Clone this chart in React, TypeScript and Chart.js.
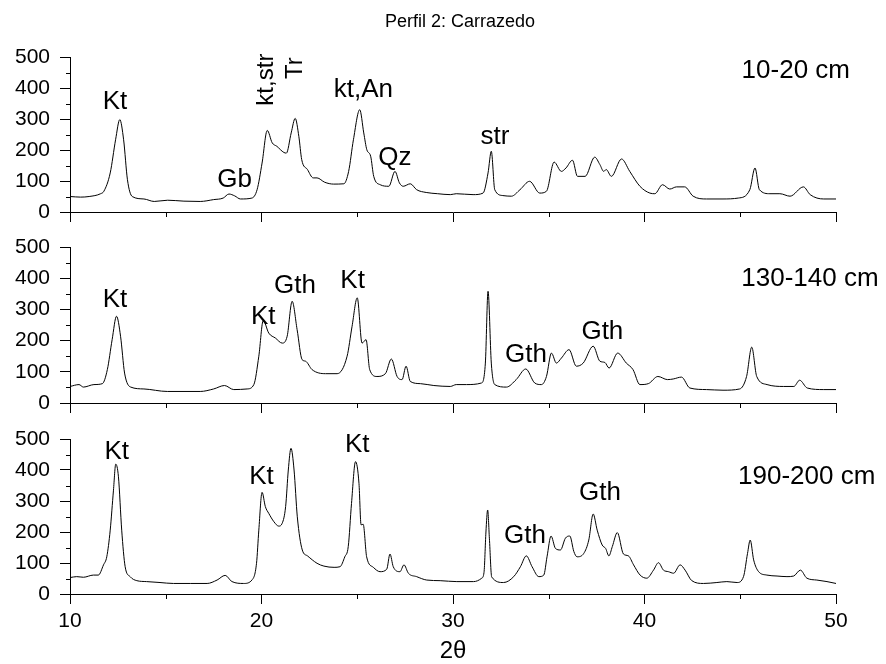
import React, { useEffect, useRef } from 'react';
import { Chart, registerables } from 'chart.js';

Chart.register(...registerables);

const FONT = "'Liberation Sans', Arial, Helvetica, sans-serif";
const TITLE = 'Perfil 2: Carrazedo';

// ---- 10-20 cm ----
const angles10_20 = [10.0, 10.55, 11.0, 11.6, 11.77, 12.1, 12.38, 12.6, 12.8, 13.0, 13.25, 13.86, 14.4, 15.1, 15.95, 16.8, 17.5, 18.0, 18.3, 18.6, 18.9, 19.5, 19.77, 20.03, 20.3, 20.56, 20.8, 21.17, 21.3, 21.55, 21.76, 21.95, 22.1, 22.4, 22.7, 22.9, 23.3, 23.77, 24.3, 24.55, 24.8, 25.13, 25.34, 25.5, 25.7, 25.86, 26.2, 26.65, 26.97, 27.2, 27.4, 27.77, 28.1, 28.6, 29.2, 29.86, 30.17, 31.05, 31.57, 31.83, 32.0, 32.18, 32.6, 33.05, 33.5, 34.0, 34.53, 34.88, 35.28, 35.66, 35.9, 36.24, 36.5, 36.9, 37.4, 37.67, 37.87, 38.0, 38.27, 38.8, 39.23, 39.76, 40.28, 40.54, 40.94, 41.32, 41.67, 42.1, 42.54, 43.24, 44.1, 44.9, 45.5, 45.77, 46.0, 46.55, 47.07, 47.6, 48.3, 48.65, 49.36, 50.0];
const counts10_20 = [50, 48, 50, 59, 67, 126, 233, 298, 233, 104, 50, 42, 34, 38, 35, 34, 40, 45, 58, 52, 42, 45, 72, 158, 263, 223, 212, 192, 190, 255, 302, 244, 169, 137, 110, 110, 96, 90, 91, 131, 233, 330, 255, 201, 180, 115, 88, 83, 131, 94, 83, 91, 72, 63, 59, 56, 59, 56, 61, 126, 196, 72, 53, 51, 72, 99, 61, 67, 161, 131, 142, 167, 115, 115, 177, 153, 131, 137, 115, 171, 131, 83, 61, 59, 88, 74, 81, 81, 51, 42, 42, 45, 72, 142, 72, 59, 59, 51, 81, 56, 42, 42];
const peaks10_20 = ['Kt', 'Gb', 'kt,str', 'Tr', 'kt,An', 'Qz', 'str'];
const peakAt10_20 = [12.35, 18.6, 20.27, 21.75, 25.32, 26.97, 32.19];
const peakH10_20 = [357, 104, 427, 464, 394, 174, 244];
const peakRot10_20 = [0, 0, -90, -90, 0, 0, 0];

// ---- 130-140 cm ----
const angles130_140 = [10.0, 10.47, 10.7, 11.25, 11.69, 11.95, 12.2, 12.43, 12.64, 12.85, 13.17, 13.86, 15.08, 16.8, 17.5, 18.07, 18.55, 19.25, 19.6, 19.86, 20.09, 20.38, 20.73, 21.08, 21.34, 21.6, 21.86, 22.12, 22.3, 22.64, 23.34, 23.95, 24.47, 24.73, 25.0, 25.25, 25.46, 25.65, 26.03, 26.47, 26.78, 27.08, 27.34, 27.55, 27.77, 28.3, 29.0, 29.86, 30.17, 30.7, 31.48, 31.69, 31.83, 32.0, 32.18, 32.79, 33.3, 33.8, 34.27, 34.62, 34.88, 35.14, 35.4, 35.66, 36.06, 36.44, 36.8, 37.32, 37.67, 37.93, 38.15, 38.6, 39.05, 39.4, 39.76, 40.2, 40.7, 41.2, 41.5, 41.93, 42.37, 43.24, 44.1, 44.97, 45.33, 45.6, 45.86, 46.4, 47.25, 47.8, 48.1, 48.5, 49.36, 50.0];
const counts130_140 = [53, 59, 51, 59, 62, 107, 203, 278, 214, 96, 51, 45, 37, 37, 45, 56, 43, 45, 59, 150, 264, 224, 208, 192, 214, 326, 235, 139, 134, 107, 94, 94, 150, 246, 337, 192, 203, 107, 85, 94, 141, 85, 75, 118, 69, 62, 56, 53, 59, 59, 64, 128, 358, 128, 59, 51, 75, 109, 64, 59, 85, 160, 128, 144, 171, 118, 128, 182, 134, 130, 112, 160, 128, 107, 59, 62, 85, 75, 77, 83, 48, 43, 41, 45, 85, 179, 85, 59, 53, 53, 73, 48, 43, 43];
const peaks130_140 = ['Kt', 'Kt', 'Gth', 'Kt', 'Gth', 'Gth'];
const peakAt130_140 = [12.35, 20.09, 21.75, 24.76, 33.81, 37.8];
const peakH130_140 = [331, 276, 376, 390, 155, 229];
const peakRot130_140 = [0, 0, 0, 0, 0, 0];

// ---- 190-200 cm ----
const angles190_200 = [10.0, 10.35, 10.7, 11.22, 11.48, 11.75, 11.92, 12.1, 12.27, 12.39, 12.53, 12.7, 12.88, 13.14, 13.49, 14.0, 14.7, 15.4, 16.28, 17.16, 17.68, 18.1, 18.46, 19.07, 19.5, 19.74, 19.86, 20.03, 20.2, 20.38, 20.65, 20.9, 21.08, 21.26, 21.4, 21.54, 21.7, 21.87, 22.13, 22.4, 22.9, 23.26, 23.79, 24.1, 24.35, 24.53, 24.7, 24.91, 25.09, 25.2, 25.31, 25.49, 25.84, 26.19, 26.54, 26.71, 26.88, 27.23, 27.44, 27.67, 28.1, 28.63, 29.33, 30.2, 31.07, 31.5, 31.62, 31.72, 31.81, 31.9, 32.02, 32.64, 33.17, 33.52, 33.83, 34.13, 34.48, 34.74, 34.91, 35.12, 35.35, 35.61, 35.87, 36.1, 36.31, 36.48, 36.83, 37.09, 37.32, 37.53, 37.79, 37.97, 38.14, 38.32, 38.58, 38.9, 39.16, 39.43, 39.77, 40.12, 40.47, 40.73, 40.99, 41.25, 41.52, 41.86, 42.12, 42.47, 43.08, 43.78, 44.3, 44.83, 45.17, 45.38, 45.52, 45.7, 45.96, 46.39, 46.92, 47.44, 47.79, 48.14, 48.48, 49.0, 49.53, 50.0];
const counts190_200 = [53, 56, 54, 61, 61, 94, 120, 206, 335, 419, 378, 206, 88, 56, 43, 40, 37, 34, 34, 34, 45, 60, 40, 34, 45, 99, 206, 328, 282, 260, 233, 219, 228, 282, 400, 470, 400, 249, 142, 123, 99, 90, 86, 88, 120, 153, 292, 427, 357, 223, 225, 120, 86, 72, 80, 129, 88, 72, 94, 67, 56, 45, 43, 40, 40, 51, 70, 200, 271, 180, 55, 37, 56, 88, 123, 88, 56, 61, 120, 187, 147, 142, 180, 187, 137, 120, 131, 174, 258, 206, 158, 147, 123, 153, 198, 129, 123, 94, 61, 51, 77, 101, 77, 72, 67, 94, 77, 43, 34, 37, 40, 37, 56, 131, 174, 110, 72, 61, 58, 56, 58, 77, 51, 45, 40, 34];
const peaks190_200 = ['Kt', 'Kt', 'Kt', 'Gth', 'Gth'];
const peakAt190_200 = [12.44, 20.0, 25.0, 33.76, 37.68];
const peakH190_200 = [459, 378, 481, 187, 325];
const peakRot190_200 = [0, 0, 0, 0, 0];

// sample depth captions and where they sit (2θ, intensity)
const depths = ['10-20 cm', '130-140 cm', '190-200 cm'];
const depthAt = [47.9, 48.64, 48.47];
const depthH = [456, 397, 378];

const X_MAJOR = [10, 20, 30, 40, 50];
const X_MINOR = [15, 25, 35, 45];
const Y_MINOR = [50, 150, 250, 350, 450];

type Label = { text: string; x: number; y: number; rot: number; size: number };

// peak names, depth caption and (top panel only) the figure title
const labelsPlugin = {
  id: 'peakLabels',
  afterDraw(chart: any, _args: any, opts: any) {
    const { ctx, scales } = chart;
    const x = scales.x;
    const y = scales.y;
    ctx.save();
    ctx.fillStyle = '#000';
    ctx.textAlign = 'center';
    ctx.textBaseline = 'middle';
    for (const l of (opts.items || []) as Label[]) {
      ctx.save();
      ctx.translate(x.getPixelForValue(l.x), y.getPixelForValue(l.y));
      ctx.rotate((l.rot * Math.PI) / 180);
      ctx.font = `${l.size}px ${FONT}`;
      ctx.fillText(l.text, 0, 0);
      ctx.restore();
    }
    if (opts.title) {
      ctx.font = `18px ${FONT}`;
      ctx.fillText(opts.title, (x.left + x.right) / 2 + 7, chart.chartArea.top - 35);
    }
    ctx.restore();
  },
};

const minorTicksPlugin = {
  id: 'minorTicks',
  afterDraw(chart: any) {
    const { ctx, scales } = chart;
    const x = scales.x;
    const y = scales.y;
    ctx.save();
    ctx.strokeStyle = '#000';
    ctx.lineWidth = 1;
    ctx.beginPath();
    for (const v of X_MINOR) {
      const px = Math.round(x.getPixelForValue(v)) + 0.5;
      ctx.moveTo(px, x.top);
      ctx.lineTo(px, x.top + 5);
    }
    for (const v of Y_MINOR) {
      const py = Math.round(y.getPixelForValue(v)) + 0.5;
      ctx.moveTo(y.right - 4, py);
      ctx.lineTo(y.right, py);
    }
    ctx.stroke();
    ctx.restore();
  },
};

type PanelProps = {
  angles: number[];
  counts: number[];
  peaks: string[];
  peakAt: number[];
  peakH: number[];
  peakRot: number[];
  depth: string;
  depthX: number;
  depthY: number;
  top: number;
  height: number;
  padTop: number;
  axisHeight: number;
  last: boolean;
  title?: string;
};

function Panel(p: PanelProps) {
  const ref = useRef<HTMLCanvasElement | null>(null);
  useEffect(() => {
    if (!ref.current) return;
    const items: Label[] = p.peaks.map((t, i) => ({
      text: t,
      x: p.peakAt[i],
      y: p.peakH[i],
      rot: p.peakRot[i],
      size: p.peakRot[i] ? 24 : 26,
    }));
    items.push({ text: p.depth, x: p.depthX, y: p.depthY, rot: 0, size: 26 });

    const chart = new Chart(ref.current, {
      type: 'line',
      data: {
        datasets: [
          {
            data: p.angles.map((a, i) => ({ x: a, y: p.counts[i] })),
            borderColor: '#000',
            borderWidth: 1,
            pointRadius: 0,
            fill: false,
            tension: 0,
            cubicInterpolationMode: 'monotone',
          },
        ],
      },
      options: {
        animation: false,
        responsive: false,
        events: [],
        layout: { padding: { left: 0, right: 50, top: p.padTop, bottom: 0 } },
        plugins: {
          legend: { display: false },
          tooltip: { enabled: false },
          title: { display: false },
          peakLabels: { items, title: p.title },
        } as any,
        scales: {
          x: {
            type: 'linear',
            min: 10,
            max: 50,
            afterBuildTicks: (s: any) => {
              s.ticks = X_MAJOR.map((v) => ({ value: v }));
            },
            afterFit: (s: any) => {
              s.height = p.axisHeight;
            },
            ticks: {
              display: p.last,
              color: '#000',
              font: { family: FONT, size: 21 },
              padding: 5,
              maxRotation: 0,
            },
            grid: {
              display: true,
              drawOnChartArea: false,
              drawTicks: true,
              tickLength: 10,
              color: '#000',
              tickColor: '#000',
            },
            border: { display: true, color: '#000', width: 1 },
            title: p.last
              ? {
                  display: true,
                  text: '2θ',
                  color: '#000',
                  font: { family: FONT, size: 24, lineHeight: 1 },
                  padding: { top: 0, bottom: 1 },
                }
              : { display: false },
          },
          y: {
            min: 0,
            max: 500,
            afterFit: (s: any) => {
              // fixed gutter; labels may overhang the plot edges
              s.width = 70;
              s.paddingTop = 0;
              s.paddingBottom = 0;
            },
            ticks: {
              stepSize: 100,
              color: '#000',
              font: { family: FONT, size: 21 },
              padding: 10,
            },
            grid: {
              display: true,
              drawOnChartArea: false,
              drawTicks: true,
              tickLength: 10,
              color: '#000',
              tickColor: '#000',
            },
            border: { display: true, color: '#000', width: 1 },
          },
        },
      },
      plugins: [labelsPlugin, minorTicksPlugin],
    } as any);
    return () => chart.destroy();
  }, []);

  return (
    <canvas
      ref={ref}
      width={886}
      height={p.height}
      style={{ position: 'absolute', left: 0, top: p.top, width: 886, height: p.height }}
    />
  );
}

export default function App() {
  return (
    <div style={{ position: 'absolute', left: 0, top: 0, width: 886, height: 664, background: '#fff' }}>
      <Panel
        angles={angles10_20}
        counts={counts10_20}
        peaks={peaks10_20}
        peakAt={peakAt10_20}
        peakH={peakH10_20}
        peakRot={peakRot10_20}
        depth={depths[0]}
        depthX={depthAt[0]}
        depthY={depthH[0]}
        top={0}
        height={230}
        padTop={57}
        axisHeight={18}
        last={false}
        title={TITLE}
      />
      <Panel
        angles={angles130_140}
        counts={counts130_140}
        peaks={peaks130_140}
        peakAt={peakAt130_140}
        peakH={peakH130_140}
        peakRot={peakRot130_140}
        depth={depths[1]}
        depthX={depthAt[1]}
        depthY={depthH[1]}
        top={230}
        height={190}
        padTop={17}
        axisHeight={17}
        last={false}
      />
      <Panel
        angles={angles190_200}
        counts={counts190_200}
        peaks={peaks190_200}
        peakAt={peakAt190_200}
        peakH={peakH190_200}
        peakRot={peakRot190_200}
        depth={depths[2]}
        depthX={depthAt[2]}
        depthY={depthH[2]}
        top={420}
        height={244}
        padTop={19}
        axisHeight={70}
        last={true}
      />
    </div>
  );
}
